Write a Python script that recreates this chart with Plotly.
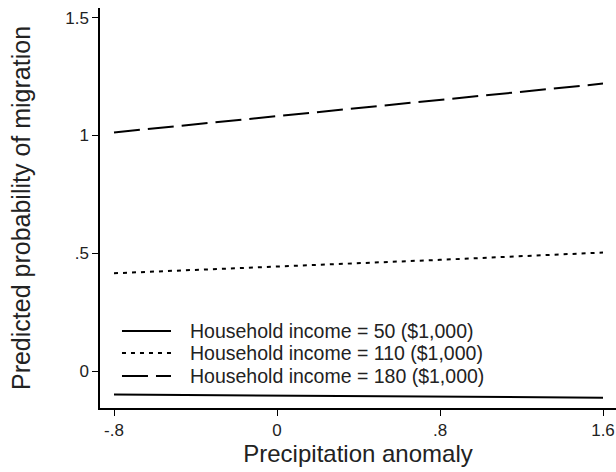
import plotly.graph_objects as go

x_vals = [-0.8, 0.0, 0.8, 1.6]
income_50 = [-0.100, -0.104, -0.108, -0.113]
income_110 = [0.415, 0.443, 0.472, 0.503]
income_180 = [1.013, 1.082, 1.150, 1.220]
series_names = ["Household income = 50 ($1,000)",
                "Household income = 110 ($1,000)",
                "Household income = 180 ($1,000)"]
series_dashes = ["solid", "4px,5px", "26px,8px"]
x_ticks = [-0.8, 0, 0.8, 1.6]
x_ticklabels = ["-.8", "0", ".8", "1.6"]
y_ticks = [0, 0.5, 1, 1.5]
y_ticklabels = ["0", ".5", "1", "1.5"]

font_family = "Liberation Sans, Arial, sans-serif"

fig = go.Figure()
for name, ys, dash in zip(series_names, [income_50, income_110, income_180], series_dashes):
    fig.add_trace(go.Scatter(x=x_vals, y=ys, mode="lines", name=name, showlegend=False,
                             line=dict(color="black", width=2, dash=dash)))

# Manual legend (Stata-style compact rows)
legend_rows_y = [0.1925, 0.1375, 0.08]
sym_x0, sym_x1, text_x = 0.0426, 0.1376, 0.170
for name, dash, ry in zip(series_names, series_dashes, legend_rows_y):
    fig.add_shape(type="line", xref="paper", yref="paper", x0=sym_x0, x1=sym_x1,
                  y0=ry, y1=ry, line=dict(color="black", width=2, dash=dash))
    fig.add_annotation(xref="paper", yref="paper", x=text_x, y=ry, text=name,
                       showarrow=False, xanchor="left", yanchor="middle",
                       font=dict(size=19.5, color="#222", family=font_family))

fig.update_layout(
    width=616, height=472,
    margin=dict(l=100, r=0, t=8, b=64),
    paper_bgcolor="white", plot_bgcolor="white",
    font=dict(family=font_family, size=18, color="#222"),
    showlegend=False,
    xaxis=dict(range=[-0.8687, 1.6638], tickvals=x_ticks, ticktext=x_ticklabels,
               showgrid=False, zeroline=False, showline=True, linecolor="black",
               linewidth=1.5, ticks="outside", ticklen=6, tickcolor="black",
               tickfont=dict(size=17, color="#222"),
               title=dict(text="Precipitation anomaly", font=dict(size=24, color="#222"), standoff=6)),
    yaxis=dict(range=[-0.157, 1.541], tickvals=y_ticks, ticktext=y_ticklabels,
               showgrid=False, zeroline=False, showline=True, linecolor="black",
               linewidth=1.5, ticks="outside", ticklen=6, tickcolor="black",
               tickfont=dict(size=17, color="#222"),
               title=dict(text="Predicted probability of migration", font=dict(size=25, color="#222"), standoff=27)),
)

fig.write_html(
    "out.html",
    config={"displayModeBar": False},
    post_script="document.body.style.margin='0';document.body.style.overflow='hidden';",
)
